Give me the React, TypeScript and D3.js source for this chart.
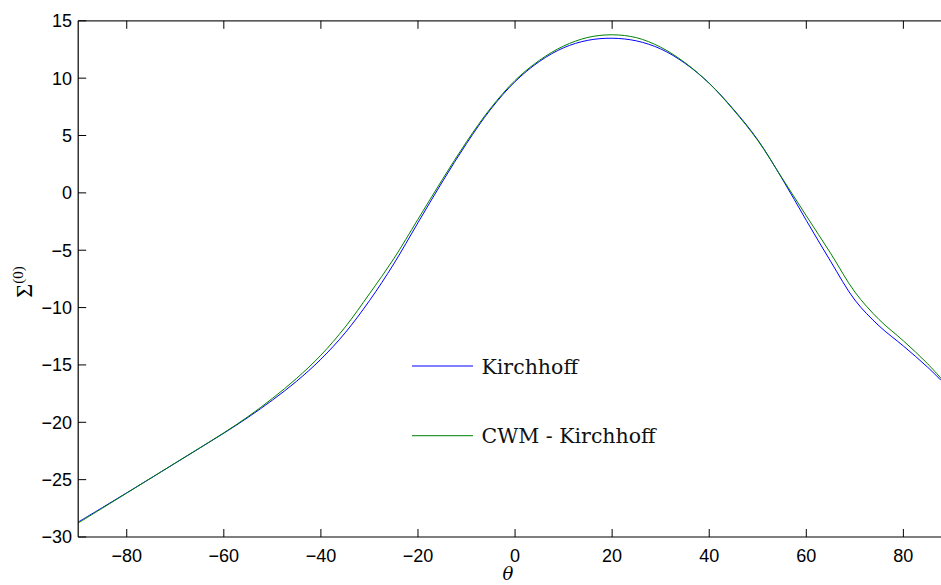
import React from "react";
import * as d3 from "d3";

const thetas = [-90, -85, -80, -75, -70, -65, -60, -55, -50, -45, -40, -35, -30, -25, -20, -15, -10, -5, 0, 5, 10, 15, 20, 25, 30, 35, 40, 45, 50, 55, 60, 65, 70, 75, 80, 85, 90];
const kirchhoff = [-28.7, -27.43, -26.15, -24.86, -23.56, -22.26, -20.95, -19.57, -18.07, -16.42, -14.5, -12.2, -9.4, -6.2, -2.6, 0.95, 4.3, 7.3, 9.7, 11.45, 12.65, 13.3, 13.48, 13.25, 12.55, 11.3, 9.55, 7.28, 4.62, 1.25, -2.4, -5.96, -9.34, -11.6, -13.35, -15.2, -17.3];
const cwm = [-28.78, -27.48, -26.17, -24.86, -23.55, -22.24, -20.92, -19.5, -17.92, -16.17, -14.15, -11.7, -8.8, -5.75, -2.3, 1.15, 4.45, 7.4, 9.8, 11.55, 12.8, 13.55, 13.78, 13.53, 12.7, 11.35, 9.55, 7.23, 4.57, 1.3, -2.0, -5.26, -8.64, -11.05, -12.9, -14.9, -17.25];
const xTicks = [-80, -60, -40, -20, 0, 20, 40, 60, 80];
const yTicks = [-30, -25, -20, -15, -10, -5, 0, 5, 10, 15];
const seriesNames = ["Kirchhoff", "CWM - Kirchhoff"];
const seriesColors = ["#0000ff", "#008000"];

const W = 941, H = 585;
const L = 78.2, T = 20.8, B = 537;
const x = d3.scaleLinear().domain([-90, 80]).range([L, L + 170 * 4.854]);
const y = d3.scaleLinear().domain([-30, 15]).range([B, T]);
const R = W;

const fmt = (v: number) => (v < 0 ? "\u2212" + Math.abs(v) : String(v));

export default function App() {
  const line = d3.line<number>().x((_, i) => x(thetas[i])).y((d) => y(d)).curve(d3.curveCatmullRom.alpha(0.5));
  const series = [kirchhoff, cwm];
  return (
    <svg width={W} height={H} style={{ position: "absolute", left: 0, top: 0, background: "#fff" }}>
      <defs>
        <clipPath id="plot">
          <rect x={L} y={T} width={R - L} height={B - T} />
        </clipPath>
      </defs>
      <rect x={0} y={0} width={W} height={H} fill="#fff" />
      <g clipPath="url(#plot)">
        {series.map((s, i) => (
          <path key={i} d={line(s) || ""} fill="none" stroke={seriesColors[i]} strokeWidth={1} />
        ))}
      </g>
      <line x1={L} x2={R} y1={T} y2={T} stroke="#222" strokeWidth={1.2} />
      <line x1={L} x2={R} y1={B} y2={B} stroke="#000" strokeWidth={1.2} />
      <line x1={L} x2={L} y1={T} y2={B} stroke="#000" strokeWidth={1.2} />
      {xTicks.map((t) => (
        <g key={"x" + t}>
          <line x1={x(t)} x2={x(t)} y1={B} y2={B - 8} stroke="#000" strokeWidth={1} />
          <line x1={x(t)} x2={x(t)} y1={T} y2={T + 8} stroke="#000" strokeWidth={1} />
          <text x={x(t)} y={561.5} textAnchor="middle" fontFamily="Liberation Sans, Arial, sans-serif" fontSize={18} fill="#000">
            {fmt(t)}
          </text>
        </g>
      ))}
      {yTicks.map((t) => (
        <g key={"y" + t}>
          <line x1={L} x2={L + 8} y1={y(t)} y2={y(t)} stroke="#000" strokeWidth={1} />
          <text x={72} y={y(t)} dy="0.36em" textAnchor="end" fontFamily="Liberation Sans, Arial, sans-serif" fontSize={18} fill="#000">
            {fmt(t)}
          </text>
        </g>
      ))}
      <text x={508} y={580} textAnchor="middle" fontFamily="DejaVu Serif, serif" fontStyle="italic" fontSize={18} fill="#000">
        θ
      </text>
      <text transform="translate(32,282) rotate(-90)" textAnchor="middle" fontFamily="Liberation Serif, serif" fill="#000">
        <tspan fontSize={24}>Σ</tspan>
        <tspan fontSize={15} dy={-9}>(0)</tspan>
      </text>
      {seriesNames.map((n, i) => {
        const ly = 366 + i * 69.7;
        return (
          <g key={n}>
            <line x1={412} x2={473} y1={ly} y2={ly} stroke={seriesColors[i]} strokeWidth={1} />
            <text x={481.5} y={ly + 7.5} fontFamily="DejaVu Serif, serif" fontSize={20.5} fill="#111">
              {n}
            </text>
          </g>
        );
      })}
    </svg>
  );
}
